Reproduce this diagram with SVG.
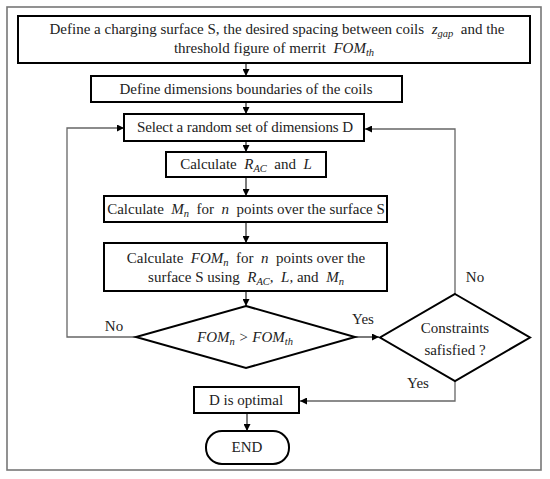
<svg xmlns="http://www.w3.org/2000/svg" width="550" height="479" viewBox="0 0 550 479">
<defs>
<marker id="ah" viewBox="0 0 10 10" refX="10" refY="5" markerWidth="7" markerHeight="7" markerUnits="userSpaceOnUse" orient="auto">
<path d="M0,0 L10,5 L0,10 z" fill="#000"/>
</marker>
<style>
.box{fill:#fff;stroke:#000;stroke-width:2}
.t{font-family:"Liberation Serif","Times New Roman",serif;font-size:15px;fill:#222;text-anchor:middle}
.m{font-style:italic}
.s{font-size:10.5px;font-style:italic}
.c{fill:none;stroke:#222;stroke-width:1.2}
.g{fill:none;stroke:#666;stroke-width:1.3}
.lbl{font-family:"Liberation Serif","Times New Roman",serif;font-size:15px;fill:#222;text-anchor:middle}
</style>
</defs>
<rect x="7" y="7" width="534" height="463" fill="#fff" stroke="#777" stroke-width="1.6"/>

<g id="connectors">
<path class="c" d="M246,63 V76" marker-end="url(#ah)"/>
<path class="c" d="M246,102 V114" marker-end="url(#ah)"/>
<path class="c" d="M246,141 V152" marker-end="url(#ah)"/>
<path class="c" d="M246,177 V196" marker-end="url(#ah)"/>
<path class="c" d="M246,222 V243" marker-end="url(#ah)"/>
<path class="c" d="M246,291 V306" marker-end="url(#ah)"/>
<path class="g" d="M136,337 H67 V128 H124" marker-end="url(#ah)"/>
<path class="c" d="M355,337 H379" marker-end="url(#ah)"/>
<path class="g" d="M455,294 V129 H365" marker-end="url(#ah)"/>
<path class="g" d="M455,381 V401 H300" marker-end="url(#ah)"/>
<path class="c" d="M247,413 V431" marker-end="url(#ah)"/>
<text class="lbl" x="114" y="331">No</text>
<text class="lbl" x="363" y="324">Yes</text>
<text class="lbl" x="475" y="282">No</text>
<text class="lbl" x="418" y="388">Yes</text>
</g>

<g id="n1">
<rect class="box" x="18" y="16" width="512" height="47"/>
<text class="t" xml:space="preserve" x="277" y="34">Define a charging surface S, the desired spacing between coils  <tspan class="m">z</tspan><tspan class="s" dy="3">gap</tspan><tspan dy="-3">  and the</tspan></text>
<text class="t" xml:space="preserve" x="274" y="53">threshold figure of merrit  <tspan class="m">FOM</tspan><tspan class="s" dy="3">th</tspan></text>
</g>

<g id="n2">
<rect class="box" x="91" y="76" width="311" height="26"/>
<text class="t" x="246" y="94" textLength="253" lengthAdjust="spacing">Define dimensions boundaries of the coils</text>
</g>

<g id="n3">
<rect class="box" x="124" y="114" width="240" height="27"/>
<text class="t" x="245" y="132" textLength="216" lengthAdjust="spacing">Select a random set of dimensions D</text>
</g>

<g id="n4">
<rect class="box" x="166" y="152" width="160" height="25"/>
<text class="t" xml:space="preserve" x="246" y="169">Calculate  <tspan class="m">R</tspan><tspan class="s" dy="3">AC</tspan><tspan dy="-3">  and  </tspan><tspan class="m">L</tspan></text>
</g>

<g id="n5">
<rect class="box" x="104" y="196" width="283" height="26"/>
<text class="t" xml:space="preserve" x="246" y="214">Calculate  <tspan class="m">M</tspan><tspan class="s" dy="3">n</tspan><tspan dy="-3">  for  </tspan><tspan class="m">n</tspan>  points over the surface S</text>
</g>

<g id="n6">
<rect class="box" x="104" y="243" width="283" height="48"/>
<text class="t" xml:space="preserve" x="246" y="263">Calculate  <tspan class="m">FOM</tspan><tspan class="s" dy="3">n</tspan><tspan dy="-3">  for  </tspan><tspan class="m">n</tspan>  points over the</text>
<text class="t" xml:space="preserve" x="246" y="282">surface S using  <tspan class="m">R</tspan><tspan class="s" dy="3">AC</tspan><tspan dy="-3" class="m">,  L,</tspan> and  <tspan class="m">M</tspan><tspan class="s" dy="3">n</tspan></text>
</g>

<g id="d1">
<path class="box" d="M246,306 L355,337 L246,368 L136,337 Z"/>
<text class="t" xml:space="preserve" x="245" y="342"><tspan class="m">FOM</tspan><tspan class="s" dy="3">n</tspan><tspan dy="-3" class="m"> &gt; FOM</tspan><tspan class="s" dy="3">th</tspan></text>
</g>

<g id="d2">
<path class="box" d="M455,294 L530,337.5 L455,381 L380,337.5 Z"/>
<text class="t" x="455" y="333">Constraints</text>
<text class="t" x="455" y="355">safisfied ?</text>
</g>

<g id="n7">
<rect class="box" x="194" y="387" width="105" height="26"/>
<text class="t" x="246" y="405">D is optimal</text>
</g>

<g id="n8">
<rect class="box" x="206" y="431" width="83" height="33" rx="16" ry="16"/>
<text class="t" x="247" y="452">END</text>
</g>
</svg>
